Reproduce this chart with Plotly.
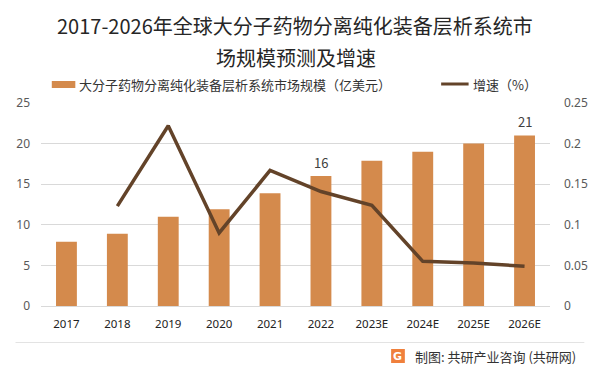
import plotly.graph_objects as go

# ---------------- data ----------------
years = ["2017", "2018", "2019", "2020", "2021", "2022", "2023E", "2024E", "2025E", "2026E"]
market_size = [7.9, 8.9, 11.0, 11.9, 13.9, 16.0, 17.9, 19.0, 20.0, 21.0]
growth_rate = [None, 0.123, 0.222, 0.090, 0.167, 0.141, 0.124, 0.055, 0.053, 0.049]
label_years = ["2022", "2026E"]
bar_name = "大分子药物分离纯化装备层析系统市场规模（亿美元）"
line_name = "增速（%）"
title_line1 = "2017-2026年全球大分子药物分离纯化装备层析系统市"
title_line2 = "场规模预测及增速"
footer_text = "制图: 共研产业咨询 (共研网)"
left_ticks = [0, 5, 10, 15, 20, 25]
right_ticks = [0, 0.05, 0.1, 0.15, 0.2, 0.25]
right_tick_text = ["0", "0.05", "0.1", "0.15", "0.2", "0.25"]

# ---------------- layout geometry (pixels) ----------------
W, H = 600, 372
L, R, T, B = 41, 560, 103, 306
BAR_COLOR = "#D48A4C"
LINE_COLOR = "#634329"
FONT = "Noto Sans CJK SC"


def px(x):
    return (x - L) / (R - L)


def py(y):
    return (B - y) / (B - T)


fig = go.Figure()
fig.add_trace(go.Bar(
    x=years, y=market_size, name=bar_name,
    marker=dict(color=BAR_COLOR, line=dict(width=0)),
    yaxis="y", showlegend=False,
))
fig.add_trace(go.Scatter(
    x=years, y=growth_rate, name=line_name, mode="lines",
    line=dict(color=LINE_COLOR, width=3.5),
    yaxis="y2", showlegend=False, connectgaps=False,
))

annotations = []
# data labels
for i, (yr, v) in enumerate(zip(years, market_size)):
    if yr in label_years:
        annotations.append(dict(
            x=i, y=v, xref="x", yref="y", text=f"{v:.0f}", showarrow=False,
            yshift=14, font=dict(size=13, color="#404040", family=FONT),
        ))

# titles
annotations.append(dict(x=px(300), y=py(25), xref="paper", yref="paper", text=title_line1,
                        showarrow=False, xanchor="center", yanchor="middle",
                        font=dict(size=20, color="#262626", family=FONT)))
annotations.append(dict(x=px(301), y=py(57), xref="paper", yref="paper", text=title_line2,
                        showarrow=False, xanchor="center", yanchor="middle",
                        font=dict(size=20, color="#262626", family=FONT)))
# legend texts
annotations.append(dict(x=px(78), y=py(84), xref="paper", yref="paper", text=bar_name,
                        showarrow=False, xanchor="left", yanchor="middle",
                        font=dict(size=13, color="#333333", family=FONT)))
annotations.append(dict(x=px(479), y=py(84), xref="paper", yref="paper", text=line_name,
                        showarrow=False, xanchor="left", yanchor="middle",
                        font=dict(size=13, color="#333333", family=FONT)))
# footer
annotations.append(dict(x=px(420), y=py(356), xref="paper", yref="paper", text=footer_text,
                        showarrow=False, xanchor="left", yanchor="middle",
                        font=dict(size=13, color="#333333", family=FONT)))
annotations.append(dict(x=px(405), y=py(356), xref="paper", yref="paper", text="<b>G</b>",
                        showarrow=False, xanchor="center", yanchor="middle",
                        font=dict(size=11, color="#ffffff", family="DejaVu Sans")))

shapes = [
    # legend swatches
    dict(type="rect", xref="paper", yref="paper", x0=px(52), x1=px(76), y0=py(88), y1=py(81),
         fillcolor=BAR_COLOR, line=dict(width=0)),
    dict(type="line", xref="paper", yref="paper", x0=px(449), x1=px(477), y0=py(84), y1=py(84),
         line=dict(color=LINE_COLOR, width=3)),
    # separator
    dict(type="line", xref="paper", yref="paper", x0=px(15), x1=px(595), y0=py(342.5), y1=py(342.5),
         line=dict(color="#E3E3E3", width=1)),
    # logo
    dict(type="rect", xref="paper", yref="paper", x0=px(398), x1=px(412), y0=py(363), y1=py(349),
         fillcolor="#F0803C", line=dict(width=0)),
]

fig.update_layout(
    width=W, height=H,
    margin=dict(l=L, r=W - R, t=T, b=H - B, pad=0),
    paper_bgcolor="white", plot_bgcolor="white",
    bargap=0.59,
    font=dict(family=FONT, color="#595959"),
    xaxis=dict(
        type="category", range=[-0.5, len(years) - 0.5], autorange=False,
        showgrid=False, showline=False, zeroline=False,
        ticks="", tickfont=dict(size=11.5, color="#222222", family="Noto Sans"),
        ticklabelstandoff=9,
    ),
    yaxis=dict(
        range=[0, 25], tickvals=left_ticks, showgrid=True, gridcolor="#D9D9D9", gridwidth=1,
        zeroline=True, zerolinecolor="#D9D9D9", zerolinewidth=1, showline=False, ticks="",
        tickfont=dict(size=12, color="#595959", family="Noto Sans"), ticklabelstandoff=10,
    ),
    yaxis2=dict(
        range=[0, 0.25], tickvals=right_ticks, ticktext=right_tick_text, overlaying="y", side="right",
        showgrid=False, zeroline=False, showline=False, ticks="",
        tickfont=dict(size=12, color="#595959", family="Noto Sans"), ticklabelstandoff=13,
    ),
    showlegend=False,
    annotations=annotations,
    shapes=shapes,
)

fig.write_html("out.html", config={"displayModeBar": False},
               post_script="document.body.style.margin='0';")
